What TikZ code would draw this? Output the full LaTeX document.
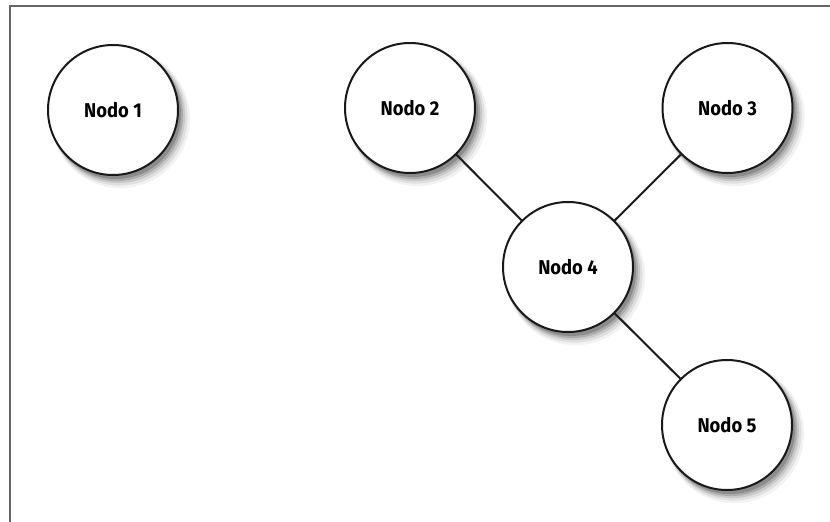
\documentclass[tikz,border=0pt]{standalone}
\usepackage{fontspec}
\setmainfont{Fira Sans}[FakeStretch=0.92]
\usetikzlibrary{shadows}
\begin{document}
\begin{tikzpicture}[x=1pt,y=-1pt,
  framecol/.style={draw=black!60, line width=2pt},
  nodo/.style={circle, draw=black!90, line width=2pt, fill=white, minimum size=130pt, inner sep=0pt,
    font=\fontsize{20}{24}\selectfont\bfseries,
    drop shadow={shadow xshift=7pt, shadow yshift=-8pt, opacity=0.05, shadow scale=1.07, fill=black},
    drop shadow={shadow xshift=6pt, shadow yshift=-7pt, opacity=0.07, shadow scale=1.05, fill=black},
    drop shadow={shadow xshift=5pt, shadow yshift=-6pt, opacity=0.10, shadow scale=1.03, fill=black},
    drop shadow={shadow xshift=4pt, shadow yshift=-5pt, opacity=0.14, shadow scale=1.015, fill=black},
    drop shadow={shadow xshift=3pt, shadow yshift=-4pt, opacity=0.18, shadow scale=1.0, fill=black}},
  link/.style={draw=black!90, line width=2pt}]
\useasboundingbox (0,0) rectangle (830,522);
\fill[white] (0,0) rectangle (830,522);
\coordinate (tl) at (9.5,5.5);
\coordinate (tr) at (830,5.5);
\coordinate (bl) at (9.5,522);
\draw[framecol] (tr) -- (tl) -- (bl);
\node[nodo] (n1) at (113,110) {Nodo 1};
\node[nodo] (n2) at (410,108) {Nodo 2};
\node[nodo] (n3) at (727.5,108) {Nodo 3};
\node[nodo] (n4) at (568,267) {Nodo 4};
\node[nodo] (n5) at (727,425) {Nodo 5};
\path[link] (n2) -- (n4);
\path[link] (n3) -- (n4);
\path[link] (n4) -- (n5);
\end{tikzpicture}
\end{document}
